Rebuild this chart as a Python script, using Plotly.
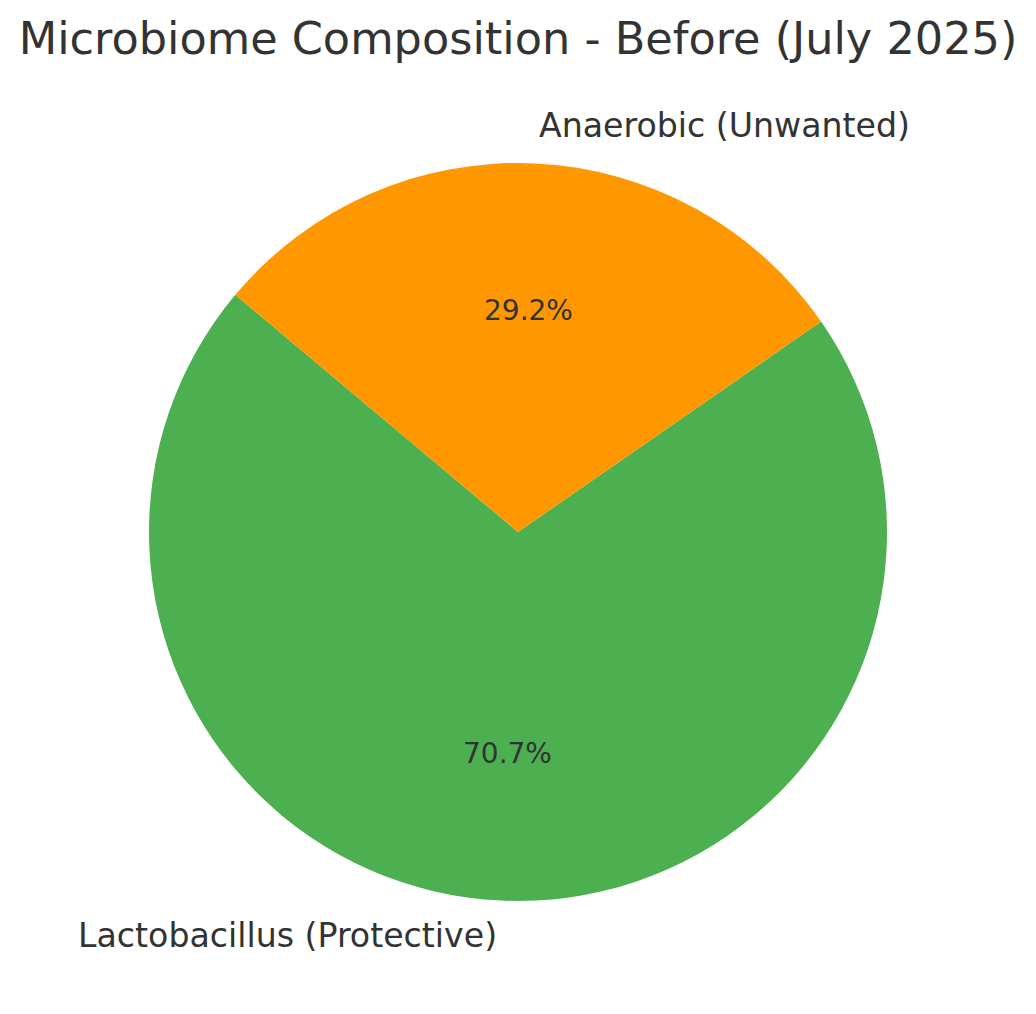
import math
import plotly.graph_objects as go

# ---- data ----
labels = ["Lactobacillus (Protective)", "Anaerobic (Unwanted)"]
values = [70.7, 29.2]
colors = ["#4CAF50", "#FF9800"]
title_text = "Microbiome Composition - Before (July 2025)"

# ---- layout constants ----
W, H = 1036, 1014
CX, CY, R = 518, 532, 369          # pie centre / radius in pixels
START_ANGLE = 140                   # degrees, math convention, counterclockwise
TEXT = "#333333"
FONT = "DejaVu Sans"
LABEL_DY = -1.5                     # small vertical nudge for outer labels (px)

total = sum(values)
# plotly (counterclockwise): rotation marks the clockwise edge of the first slice
rotation = 90 - START_ANGLE - 360 * values[0] / total

fig = go.Figure()
fig.add_trace(go.Pie(
    labels=labels,
    values=values,
    sort=False,
    direction="counterclockwise",
    rotation=rotation,
    marker=dict(colors=colors, line=dict(width=0)),
    textinfo="none",
    hoverinfo="label+percent",
    showlegend=False,
    domain=dict(x=[(CX - R) / W, (CX + R) / W],
                y=[1 - (CY + R) / H, 1 - (CY - R) / H]),
))

def px_to_paper(px, py):
    return px / W, 1 - py / H

ann = []
a0 = START_ANGLE
for lab, v in zip(labels, values):
    span = 360 * v / total
    mid = math.radians(a0 + span / 2)
    a0 += span
    # outer label at 1.1 R
    lx = CX + 1.1 * R * math.cos(mid)
    ly = CY - 1.1 * R * math.sin(mid) + LABEL_DY
    x, y = px_to_paper(lx, ly)
    ann.append(dict(x=x, y=y, xref="paper", yref="paper", text=lab, showarrow=False,
                    xanchor="left" if math.cos(mid) >= 0 else "right", yanchor="middle",
                    font=dict(size=33.2, color=TEXT, family=FONT)))
    # percentage at 0.6 R
    tx = CX + 0.6 * R * math.cos(mid)
    ty = CY - 0.6 * R * math.sin(mid)
    x, y = px_to_paper(tx, ty)
    ann.append(dict(x=x, y=y, xref="paper", yref="paper", text=f"{v:.1f}%", showarrow=False,
                    xanchor="center", yanchor="middle",
                    font=dict(size=28, color=TEXT, family=FONT)))

fig.update_layout(
    width=W, height=H,
    margin=dict(l=0, r=0, t=0, b=0),
    paper_bgcolor="white",
    plot_bgcolor="white",
    font=dict(family=FONT, color=TEXT),
    title=dict(text=title_text, x=0.5, xanchor="center", xref="paper",
               y=1 - 38 / H, yref="container", yanchor="middle",
               font=dict(size=44.6, color=TEXT, family=FONT)),
    annotations=ann,
)

fig.write_html("out.html", config={"displayModeBar": False},
               post_script="document.body.style.margin='0';")
